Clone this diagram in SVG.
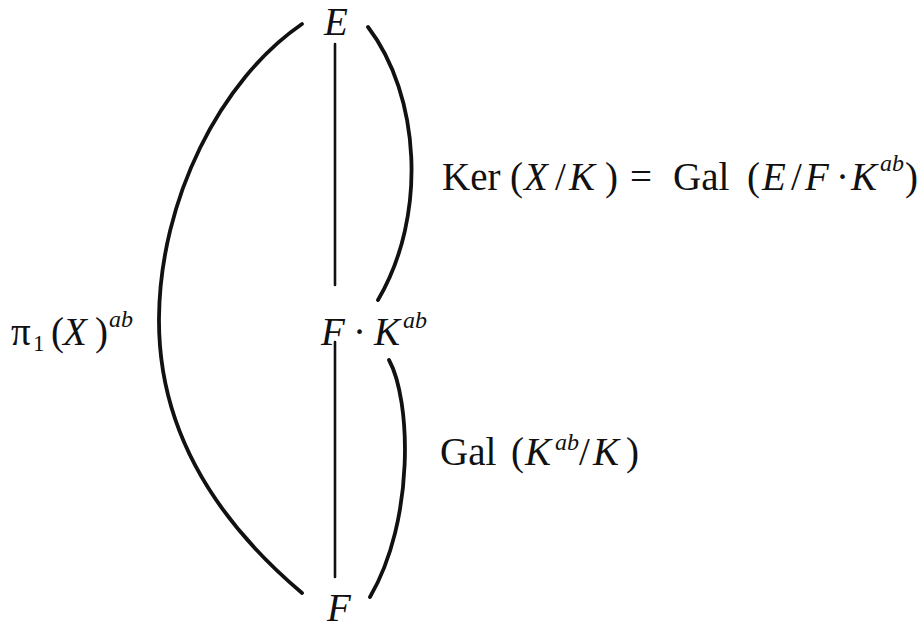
<svg xmlns="http://www.w3.org/2000/svg" width="920" height="628" viewBox="0 0 920 628">
<style>
text{font-family:"Liberation Serif","Times New Roman",serif;fill:#111;}
.m{font-size:39px;}
.i{font-style:italic;}
.sup{font-size:24px;font-style:italic;}
.sub{font-size:23px;}
.c{fill:none;stroke:#111;stroke-linecap:round;}
.arc{stroke-width:3.8;}
.ln{stroke-width:2.6;}
</style>
<rect width="920" height="628" fill="#fff"/>
<g id="connectors">
<path class="c ln" d="M335,44 L335,285"/>
<path class="c ln" d="M335,342 L335,577"/>
<path class="c arc" d="M302,24 C220,80 160,200 159,318 C158,432 218,522 302,593"/>
<path class="c arc" d="M368,27 C420,95 428,215 378,300"/>
<path class="c arc" d="M389,360 C411,400 415,520 370,597"/>
</g>
<g id="node-E">
<text class="m i" x="336" y="35" text-anchor="middle">E</text>
</g>
<g id="node-FKab">
<text class="m"><tspan class="i" x="321" y="345">F</tspan><tspan x="353" y="345">·</tspan><tspan class="i" x="374" y="345">K</tspan><tspan class="sup" x="403" y="328">ab</tspan></text>
</g>
<g id="node-F">
<text class="m i" x="339" y="621" text-anchor="middle">F</text>
</g>
<g id="label-pi">
<text class="m"><tspan x="11" y="345">π</tspan><tspan class="sub" x="33" y="351">1</tspan><tspan x="51" y="345">(</tspan><tspan class="i" x="63" y="345">X</tspan><tspan x="95" y="345">)</tspan><tspan class="sup" x="109" y="327">ab</tspan></text>
</g>
<g id="label-ker">
<text class="m"><tspan x="442" y="190">Ker</tspan><tspan x="510" y="190">(</tspan><tspan class="i" x="524" y="190">X</tspan><tspan x="555" y="190">/</tspan><tspan class="i" x="569" y="190">K</tspan><tspan x="605" y="190">)</tspan><tspan x="630" y="190">=</tspan><tspan x="673" y="190">Gal</tspan><tspan x="747" y="190">(</tspan><tspan class="i" x="762" y="190">E</tspan><tspan x="791" y="190">/</tspan><tspan class="i" x="805" y="190">F</tspan><tspan x="836" y="190">·</tspan><tspan class="i" x="851" y="190">K</tspan><tspan class="sup" x="880" y="171">ab</tspan><tspan x="905" y="190">)</tspan></text>
</g>
<g id="label-gal">
<text class="m"><tspan x="440" y="465">Gal</tspan><tspan x="511" y="465">(</tspan><tspan class="i" x="525" y="465">K</tspan><tspan class="sup" x="555" y="450">ab</tspan><tspan x="579" y="465">/</tspan><tspan class="i" x="593" y="465">K</tspan><tspan x="626" y="465">)</tspan></text>
</g>
</svg>
